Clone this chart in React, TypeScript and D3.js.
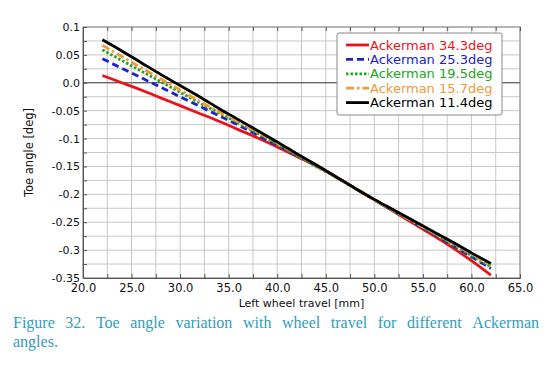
import React, { useRef, useEffect } from "react";
import * as d3 from "d3";

// wheel travel [mm] sample points
const travel = [22, 24, 26, 28, 30, 32, 34, 36, 38, 40, 42, 44, 46, 48, 50, 52, 54, 56, 58, 60, 62];

// toe angle [deg] per Ackerman setting
const ack343 = [0.013, 0.0, -0.013, -0.027, -0.041, -0.055, -0.069, -0.084, -0.099, -0.115, -0.132, -0.149, -0.168, -0.189, -0.21, -0.231, -0.252, -0.273, -0.295, -0.319, -0.345];
const ack253 = [0.043, 0.026, 0.009, -0.008, -0.025, -0.042, -0.059, -0.076, -0.094, -0.112, -0.13, -0.148, -0.168, -0.189, -0.21, -0.23, -0.25, -0.27, -0.291, -0.312, -0.333];
const ack195 = [0.059, 0.04, 0.021, 0.002, -0.017, -0.036, -0.054, -0.072, -0.091, -0.11, -0.13, -0.15, -0.169, -0.189, -0.21, -0.23, -0.249, -0.269, -0.289, -0.31, -0.33];
const ack157 = [0.067, 0.047, 0.027, 0.007, -0.013, -0.033, -0.052, -0.07, -0.089, -0.108, -0.128, -0.148, -0.169, -0.189, -0.21, -0.229, -0.249, -0.268, -0.287, -0.307, -0.328];
const ack114 = [0.077, 0.057, 0.036, 0.015, -0.005, -0.025, -0.046, -0.066, -0.086, -0.106, -0.127, -0.147, -0.168, -0.189, -0.209, -0.228, -0.247, -0.266, -0.285, -0.305, -0.324];

const seriesNames = ["Ackerman 34.3deg", "Ackerman 25.3deg", "Ackerman 19.5deg", "Ackerman 15.7deg", "Ackerman 11.4deg"];

const xTicks = [20, 25, 30, 35, 40, 45, 50, 55, 60, 65];
const yTicks = [0.1, 0.05, 0, -0.05, -0.1, -0.15, -0.2, -0.25, -0.3, -0.35];
const yTickLabels = ["0.1", "0.05", "0.0", "-0.05", "-0.1", "-0.15", "-0.2", "-0.25", "-0.3", "-0.35"];

const captionLine1 = "Figure 32. Toe angle variation with wheel travel for different Ackerman";
const captionLine2 = "angles.";

const App = () => {
  const chartRef = useRef<SVGSVGElement>(null);

  useEffect(() => {
    const svgWidth = 549;
    const svgHeight = 368;
    const margin = { top: 27, right: 29, bottom: 90, left: 83 };
    const width = svgWidth - margin.left - margin.right;
    const height = svgHeight - margin.top - margin.bottom;
    const font = "DejaVu Sans, Verdana, sans-serif";

    const svg = d3.select(chartRef.current);
    svg.selectAll("*").remove();

    svg.append("rect").attr("width", svgWidth).attr("height", svgHeight).attr("fill", "#fff");

    const g = svg.append("g").attr("transform", `translate(${margin.left},${margin.top})`);

    const x = d3.scaleLinear().domain([20, 65]).range([0, width]);
    const y = d3.scaleLinear().domain([-0.35, 0.1]).range([height, 0]);

    const xMinor = d3.range(20, 65.01, 2.5);
    const yMinor = d3.range(-0.35, 0.1001, 0.025);

    // grid
    g.append("g")
      .selectAll("line")
      .data(xMinor)
      .enter()
      .append("line")
      .attr("x1", (d) => x(d))
      .attr("x2", (d) => x(d))
      .attr("y1", 0)
      .attr("y2", height)
      .attr("stroke", "#c8c8c8")
      .attr("stroke-width", 1);

    g.append("g")
      .selectAll("line")
      .data(yMinor)
      .enter()
      .append("line")
      .attr("x1", 0)
      .attr("x2", width)
      .attr("y1", (d) => y(d))
      .attr("y2", (d) => y(d))
      .attr("stroke", "#c8c8c8")
      .attr("stroke-width", 1);

    // zero line
    g.append("line")
      .attr("x1", 0)
      .attr("x2", width)
      .attr("y1", y(0))
      .attr("y2", y(0))
      .attr("stroke", "#444")
      .attr("stroke-width", 1);

    // frame
    g.append("rect")
      .attr("width", width)
      .attr("height", height)
      .attr("fill", "none")
      .attr("stroke", "#888")
      .attr("stroke-width", 1);

    // axes
    const xAxis = g
      .append("g")
      .attr("transform", `translate(0,${height})`)
      .call(
        d3.axisBottom(x).tickValues(xMinor).tickSize(-4).tickPadding(6)
          .tickFormat((d) => (xTicks.includes(+d) ? d3.format(".1f")(+d) : ""))
      );
    xAxis.select(".domain").attr("stroke", "#555");
    xAxis.selectAll(".tick line").attr("stroke", "#555");
    xAxis.selectAll("text").attr("font-family", font).attr("font-size", 11.5).attr("fill", "#111").attr("dy", "0.71em");

    const yAxis = g.append("g").call(
      d3.axisLeft(y).tickValues(yMinor).tickSize(-4).tickPadding(3)
        .tickFormat((d) => {
          const i = yTicks.findIndex((t) => Math.abs(t - +d) < 1e-6);
          return i >= 0 ? yTickLabels[i] : "";
        })
    );
    yAxis.select(".domain").attr("stroke", "#555");
    yAxis.selectAll(".tick line").attr("stroke", "#555");
    yAxis.selectAll("text").attr("font-family", font).attr("font-size", 11).attr("fill", "#111");

    // top minor ticks
    g.append("g")
      .call(d3.axisTop(x).tickValues(xMinor).tickSize(-4).tickFormat(() => ""))
      .call((a) => a.select(".domain").remove())
      .selectAll(".tick line")
      .attr("stroke", "#555");

    // axis titles
    g.append("text")
      .attr("x", width / 2)
      .attr("y", height + 28.5)
      .attr("text-anchor", "middle")
      .attr("font-family", font)
      .attr("font-size", 11)
      .attr("fill", "#111")
      .text("Left wheel travel [mm]");

    g.append("text")
      .attr("transform", `translate(${-50},${height / 2}) rotate(-90)`)
      .attr("text-anchor", "middle")
      .attr("font-family", font)
      .attr("font-size", 11.5)
      .attr("fill", "#111")
      .text("Toe angle [deg]");

    // series
    const series = [
      { name: seriesNames[0], values: ack343, color: "#e8141c", dash: null },
      { name: seriesNames[1], values: ack253, color: "#1c22c8", dash: "7,4" },
      { name: seriesNames[2], values: ack195, color: "#23a323", dash: "2.5,2" },
      { name: seriesNames[3], values: ack157, color: "#f09a38", dash: "8,3,2.5,3" },
      { name: seriesNames[4], values: ack114, color: "#000000", dash: null },
    ];

    const line = d3
      .line<number>()
      .x((d, i) => x(travel[i]))
      .y((d) => y(d))
      .curve(d3.curveMonotoneX);

    series.forEach((s) => {
      g.append("path")
        .datum(s.values)
        .attr("d", line)
        .attr("fill", "none")
        .attr("stroke", s.color)
        .attr("stroke-width", 2.8)
        .attr("stroke-dasharray", s.dash);
    });

    // legend
    const lg = svg.append("g").attr("transform", "translate(337,33)");
    lg.append("rect")
      .attr("width", 165)
      .attr("height", 82)
      .attr("rx", 2)
      .attr("fill", "#fff")
      .attr("stroke", "#8a8a8a")
      .attr("stroke-width", 1);

    series.forEach((s, i) => {
      const row = lg.append("g").attr("transform", `translate(0,${12 + i * 14.4})`);
      row.append("line")
        .attr("x1", 9)
        .attr("x2", 32)
        .attr("y1", 0)
        .attr("y2", 0)
        .attr("stroke", s.color)
        .attr("stroke-width", 2.8)
        .attr("stroke-dasharray", s.dash);
      row.append("text")
        .attr("x", 33)
        .attr("y", 0)
        .attr("dy", "0.36em")
        .attr("font-family", font)
        .attr("font-size", 13)
        .attr("fill", s.color)
        .text(s.name);
    });

    // caption, justified first line
    const capFont = "Liberation Serif, Times New Roman, serif";
    const capColor = "#2f9ec0";
    const capLeft = 13;
    const capRight = 539;
    const words = captionLine1.split(" ");
    const cap = svg.append("g");
    const widths = words.map((w) => {
      const t = cap.append("text").attr("font-family", capFont).attr("font-size", 16).text(w);
      const wd = (t.node() as SVGTextElement).getComputedTextLength();
      t.remove();
      return wd;
    });
    const gap = (capRight - capLeft - d3.sum(widths)) / (words.length - 1);
    let cx = capLeft;
    words.forEach((w, i) => {
      cap.append("text")
        .attr("x", cx)
        .attr("y", 328)
        .attr("font-family", capFont)
        .attr("font-size", 16)
        .attr("fill", capColor)
        .text(w);
      cx += widths[i] + gap;
    });
    cap.append("text")
      .attr("x", capLeft)
      .attr("y", 347)
      .attr("font-family", capFont)
      .attr("font-size", 16)
      .attr("fill", capColor)
      .text(captionLine2);
  }, []);

  return (
    <svg
      ref={chartRef}
      width={549}
      height={368}
      style={{ position: "absolute", left: 0, top: 0 }}
    ></svg>
  );
};

export default App;
